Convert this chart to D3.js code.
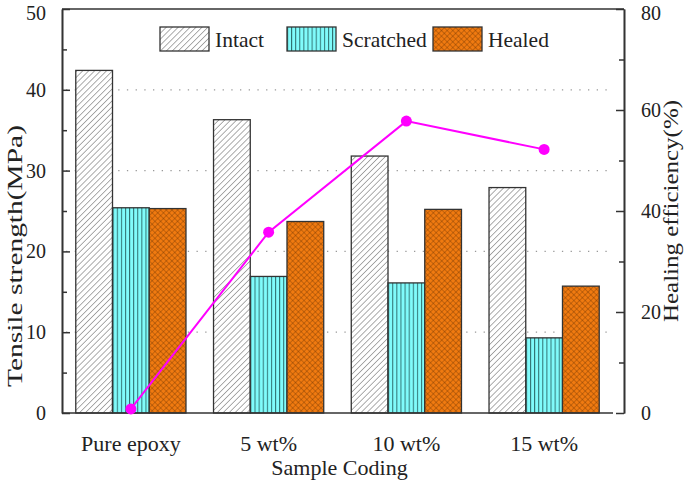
<!DOCTYPE html>
<html>
<head>
<meta charset="utf-8">
<script src="https://cdn.jsdelivr.net/npm/d3@7"></script>
<style>
  html, body { margin: 0; padding: 0; background: #fff; }
  svg { display: block; }
  text { font-family: "Liberation Serif", "Times New Roman", serif; fill: #222; }
</style>
</head>
<body>
<svg id="chart" width="685" height="487"></svg>
<script>
// ---- data ----
const categories = ["Pure epoxy", "5 wt%", "10 wt%", "15 wt%"];
const seriesNames = ["Intact", "Scratched", "Healed"];
const intact = [42.4, 36.3, 31.8, 27.9];
const scratched = [25.4, 16.9, 16.1, 9.3];
const healed = [25.3, 23.7, 25.2, 15.7];
const healingEfficiency = [0.8, 35.8, 57.8, 52.2];
const leftTicks = [0, 10, 20, 30, 40, 50];
const leftMinorTicks = [5, 15, 25, 35, 45];
const rightTicks = [0, 20, 40, 60, 80];
const rightMinorTicks = [10, 30, 50, 70];
const gridValues = [10, 20, 30, 40];
const xTitle = "Sample Coding";
const yLeftTitle = "Tensile strength(MPa)";
const yRightTitle = "Healing efficiency(%)";

// ---- layout ----
const svg = d3.select("#chart");
const L = 62, R = 624, T = 9, B = 413, XR = 613;
const axisColor = "#333";

const x0 = d3.scaleBand().domain(categories).range([L, XR]).paddingInner(0.2).paddingOuter(0.1);
const x1 = d3.scaleBand().domain(seriesNames).range([0, x0.bandwidth()]);
const yL = d3.scaleLinear().domain([0, 50]).range([B, T]);
const yR = d3.scaleLinear().domain([0, 80]).range([B, T]);

// ---- patterns ----
const defs = svg.append("defs");
const pI = defs.append("pattern").attr("id", "pIntact").attr("patternUnits", "userSpaceOnUse")
  .attr("width", 4.2).attr("height", 4.2).attr("patternTransform", "rotate(45)");
pI.append("rect").attr("width", 4.2).attr("height", 4.2).attr("fill", "#fff");
pI.append("line").attr("x1", 0).attr("y1", 0).attr("x2", 0).attr("y2", 4.2)
  .attr("stroke", "#6a6a6a").attr("stroke-width", 1.1);

const pS = defs.append("pattern").attr("id", "pScratched").attr("patternUnits", "userSpaceOnUse")
  .attr("width", 4.1).attr("height", 10);
pS.append("rect").attr("width", 4.1).attr("height", 10).attr("fill", "#80fbfb");
pS.append("line").attr("x1", 0.5).attr("y1", 0).attr("x2", 0.5).attr("y2", 10)
  .attr("stroke", "#2f6f6f").attr("stroke-width", 1);

const pH = defs.append("pattern").attr("id", "pHealed").attr("patternUnits", "userSpaceOnUse")
  .attr("width", 4).attr("height", 4).attr("patternTransform", "rotate(45)");
pH.append("rect").attr("width", 4).attr("height", 4).attr("fill", "#f07a10");
pH.append("line").attr("x1", 0).attr("y1", 0).attr("x2", 0).attr("y2", 4)
  .attr("stroke", "#5a2a00").attr("stroke-width", 0.8).attr("stroke-opacity", 0.8);
pH.append("line").attr("x1", 0).attr("y1", 0).attr("x2", 4).attr("y2", 0)
  .attr("stroke", "#5a2a00").attr("stroke-width", 0.8).attr("stroke-opacity", 0.8);

const fills = { "Intact": "url(#pIntact)", "Scratched": "url(#pScratched)", "Healed": "url(#pHealed)" };
const seriesData = { "Intact": intact, "Scratched": scratched, "Healed": healed };

// ---- gridlines ----
svg.append("g").selectAll("line").data(gridValues).join("line")
  .attr("x1", L + 4).attr("x2", XR - 4)
  .attr("y1", d => yL(d)).attr("y2", d => yL(d))
  .attr("stroke", "#999").attr("stroke-width", 1.3)
  .attr("stroke-dasharray", "1.3,7.4");

// ---- bars ----
const groups = svg.append("g").selectAll("g").data(categories).join("g")
  .attr("transform", c => `translate(${x0(c)},0)`);
groups.selectAll("rect").data((c, i) => seriesNames.map(s => ({ s, v: seriesData[s][i] })))
  .join("rect")
  .attr("x", d => x1(d.s)).attr("width", x1.bandwidth())
  .attr("y", d => yL(d.v)).attr("height", d => B - yL(d.v))
  .attr("fill", d => fills[d.s])
  .attr("stroke", "#333").attr("stroke-width", 1.3);

// ---- axes ----
const axL = svg.append("g").attr("transform", `translate(${L},0)`)
  .call(d3.axisLeft(yL).tickValues(leftTicks).tickSizeInner(-8).tickSizeOuter(0).tickPadding(16));
const axLm = svg.append("g").attr("transform", `translate(${L},0)`)
  .call(d3.axisLeft(yL).tickValues(leftMinorTicks).tickSizeInner(-5).tickSizeOuter(0).tickFormat(""));
const axR = svg.append("g").attr("transform", `translate(${R},0)`)
  .call(d3.axisRight(yR).tickValues(rightTicks).tickSizeInner(-8).tickSizeOuter(0).tickPadding(17));
const axRm = svg.append("g").attr("transform", `translate(${R},0)`)
  .call(d3.axisRight(yR).tickValues(rightMinorTicks).tickSizeInner(-5).tickSizeOuter(0).tickFormat(""));
const axB = svg.append("g").attr("transform", `translate(0,${B})`)
  .call(d3.axisBottom(x0).tickSize(0).tickSizeOuter(0).tickPadding(22));
axB.select(".domain").attr("d", `M${L},0H${XR}`);

[axL, axLm, axR, axRm, axB].forEach(a => {
  a.selectAll(".domain").attr("stroke", axisColor).attr("stroke-width", 1.6);
  a.selectAll(".tick line").attr("stroke", axisColor).attr("stroke-width", 1.5);
  a.selectAll("text").attr("font-family", "Liberation Serif").attr("fill", "#222");
});
axL.selectAll("text").attr("font-size", 20);
axR.selectAll("text").attr("font-size", 20);
// keep the topmost labels inside the picture
axL.selectAll(".tick").filter(d => d === 50).select("text").attr("dy", "0.5em");
axR.selectAll(".tick").filter(d => d === 80).select("text").attr("dy", "0.5em");
axB.selectAll("text").attr("font-size", 22).attr("dy", "0.71em");

// top border
svg.append("line").attr("x1", L).attr("x2", R).attr("y1", T).attr("y2", T)
  .attr("stroke", axisColor).attr("stroke-width", 1.6);

// ---- line series ----
const line = d3.line().x((d, i) => x0(categories[i]) + x0.bandwidth() / 2).y(d => yR(d));
svg.append("path").datum(healingEfficiency).attr("d", line)
  .attr("fill", "none").attr("stroke", "#ff00ff").attr("stroke-width", 2);
svg.append("g").selectAll("circle").data(healingEfficiency).join("circle")
  .attr("cx", (d, i) => x0(categories[i]) + x0.bandwidth() / 2).attr("cy", d => yR(d))
  .attr("r", 5.5).attr("fill", "#ff00ff");

// ---- titles ----
svg.append("text").attr("x", (L + XR) / 2 + 2).attr("y", 475).attr("text-anchor", "middle")
  .attr("font-size", 22).text(xTitle);
svg.append("text").attr("transform", "translate(22,256) rotate(-90)").attr("text-anchor", "middle")
  .attr("font-size", 21).attr("textLength", 262).attr("lengthAdjust", "spacingAndGlyphs").text(yLeftTitle);
svg.append("text").attr("transform", "translate(678,211) rotate(-90)").attr("text-anchor", "middle")
  .attr("font-size", 21).attr("textLength", 222).attr("lengthAdjust", "spacingAndGlyphs").text(yRightTitle);

// ---- legend ----
const legX = [160, 287, 433];
const leg = svg.append("g").selectAll("g").data(seriesNames).join("g")
  .attr("transform", (d, i) => `translate(${legX[i]},27)`);
leg.append("rect").attr("width", 49).attr("height", 24)
  .attr("fill", d => fills[d]).attr("stroke", "#333").attr("stroke-width", 1.3);
leg.append("text").attr("x", 55).attr("y", 20).attr("font-size", 21.5).text(d => d);
</script>
</body>
</html>
